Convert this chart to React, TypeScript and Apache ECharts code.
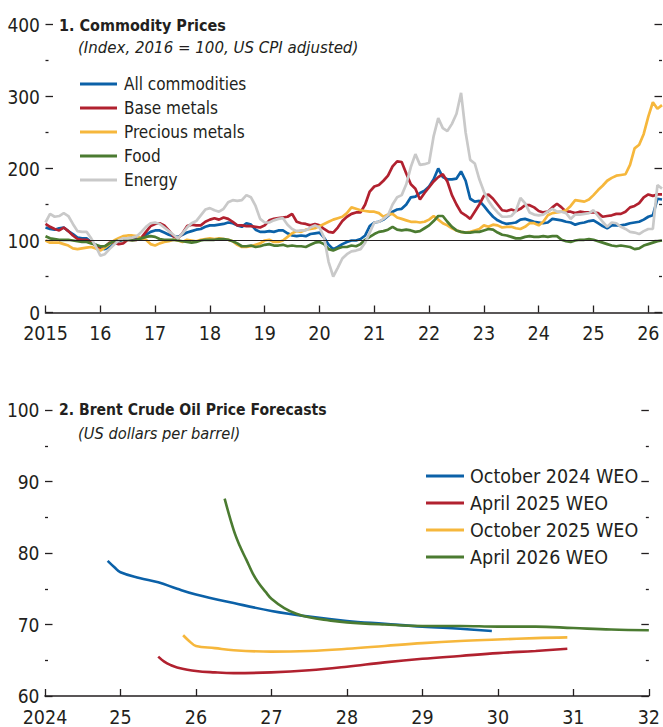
import React, { useEffect, useRef } from "react";
import * as echarts from "echarts";

// ---------- Panel 1: Commodity prices (monthly, Jan 2015 - Apr 2026) ----------
const startYear = 2015;
const allCommodities = [
  118,116,115,117,118,113,109,104,103,103,98,94,89,88,91,97,99,101,103,104,104,103,108,112,114,114,111,108,106,105,108,111,113,115,
  116,119,121,121,122,123,125,124,121,119,124,122,115,112,112,113,112,114,114,110,107,106,107,106,109,110,111,104,94,88,91,95,98,100,
  100,102,107,120,125,126,129,134,140,143,144,150,160,161,166,169,175,185,200,188,185,185,186,196,183,158,154,155,148,140,133,128,125,123,
  124,125,129,130,128,126,125,124,125,130,129,128,126,125,122,124,125,127,128,124,120,117,121,121,121,122,124,125,126,129,133,135,158,157,
];
const baseMetals = [
  123,119,116,114,118,113,107,102,101,101,98,93,87,91,97,97,95,96,101,101,101,104,112,120,123,124,121,114,106,103,110,120,122,121,
  121,126,129,131,129,132,130,126,121,121,120,120,119,118,121,128,130,131,132,133,137,126,124,123,121,123,121,116,112,111,118,127,133,137,
  139,139,150,168,175,177,183,190,203,210,209,193,178,172,157,166,174,182,188,192,182,163,150,139,135,130,140,150,162,164,158,150,142,141,
  143,141,144,149,149,146,141,139,140,146,151,146,140,140,138,140,139,139,139,138,133,134,135,137,137,140,146,148,152,160,164,162,164,164,
];
const preciousMetals = [
  100,97,97,97,95,93,89,88,89,90,91,89,86,90,95,100,103,106,107,107,106,103,101,95,93,96,98,99,101,100,98,101,100,99,
  101,102,103,102,103,102,101,99,94,91,91,92,94,96,100,101,98,98,100,105,110,113,112,115,116,117,120,123,126,129,131,133,138,146,
  144,142,141,140,140,138,133,136,137,132,130,128,126,126,125,126,129,134,129,124,121,117,114,112,111,112,114,116,121,119,122,121,118,119,
  119,117,116,119,124,124,121,126,135,138,139,140,142,148,156,155,154,157,163,170,176,183,187,190,191,192,205,228,233,248,272,292,283,288,
];
const food = [
  106,103,102,101,101,101,100,99,98,98,96,94,92,92,96,99,100,101,101,100,101,103,105,106,105,102,101,101,101,100,99,98,97,98,
  100,101,101,101,102,102,101,99,96,92,92,93,91,92,94,95,93,93,94,92,93,92,92,91,94,97,98,95,88,86,89,91,91,93,
  92,95,101,105,109,112,113,115,119,115,114,115,114,112,113,117,121,127,134,134,126,119,114,112,111,111,112,112,114,116,115,111,108,107,
  105,103,103,105,106,105,105,106,105,106,106,101,99,98,100,101,101,102,101,99,97,95,93,92,93,92,91,88,89,93,95,97,99,100,
];
const energy = [
  125,137,133,134,138,134,123,113,112,112,103,92,79,81,88,94,100,103,103,104,106,112,119,124,125,123,118,113,108,103,110,118,124,127,
  135,143,145,142,140,144,153,156,155,156,163,160,148,130,125,125,128,130,131,122,116,113,114,114,118,121,118,104,70,50,62,75,81,85,
  86,88,97,111,125,126,130,135,150,160,163,178,202,220,205,206,208,245,270,256,252,262,276,305,250,212,207,185,168,155,146,139,133,133,
  134,141,159,152,139,136,135,136,140,144,140,140,138,130,136,136,137,138,142,134,126,119,125,124,119,116,112,111,109,113,116,116,177,172,
];
const panel1Names = ["All commodities", "Base metals", "Precious metals", "Food", "Energy"];
const panel1Years = [2015, 2016, 2017, 2018, 2019, 2020, 2021, 2022, 2023, 2024, 2025, 2026];

// ---------- Panel 2: Brent forecasts ----------
const oct2024X = [2024.83, 2024.92, 2025.0, 2025.25, 2025.5, 2025.75, 2026.0, 2026.5, 2027.0, 2027.5, 2028.0, 2028.5, 2029.0, 2029.5, 2029.92];
const oct2024Y = [78.9, 78.0, 77.3, 76.5, 75.9, 75.0, 74.2, 73.0, 71.9, 71.1, 70.5, 70.1, 69.7, 69.4, 69.1];
const apr2025X = [2025.5, 2025.58, 2025.67, 2025.75, 2026.0, 2026.25, 2026.5, 2027.0, 2027.5, 2028.0, 2028.5, 2029.0, 2029.5, 2030.0, 2030.5, 2030.92];
const apr2025Y = [65.5, 64.8, 64.3, 64.0, 63.5, 63.3, 63.2, 63.3, 63.6, 64.1, 64.7, 65.2, 65.6, 66.0, 66.3, 66.6];
const oct2025X = [2025.83, 2025.92, 2026.0, 2026.25, 2026.5, 2027.0, 2027.5, 2028.0, 2028.5, 2029.0, 2029.5, 2030.0, 2030.5, 2030.92];
const oct2025Y = [68.5, 67.6, 67.0, 66.7, 66.4, 66.2, 66.3, 66.6, 67.0, 67.4, 67.7, 67.9, 68.1, 68.2];
const apr2026X = [2026.38, 2026.5, 2026.58, 2026.67, 2026.75, 2026.83, 2026.92, 2027.0, 2027.17, 2027.33, 2027.5, 2027.75, 2028.0, 2028.5, 2029.0, 2029.5, 2030.0, 2030.5, 2031.0, 2031.5, 2032.0];
const apr2026Y = [87.6, 83.2, 81.0, 79.0, 77.2, 75.8, 74.6, 73.6, 72.3, 71.5, 71.0, 70.6, 70.3, 70.0, 69.8, 69.8, 69.7, 69.7, 69.5, 69.3, 69.2];
const panel2Names = ["October 2024 WEO", "April 2025 WEO", "October 2025 WEO", "April 2026 WEO"];
const panel2Years = [2024, 2025, 2026, 2027, 2028, 2029, 2030, 2031, 2032];

const COLORS = { blue: "#0b61a8", red: "#b1212f", yellow: "#f6b73c", green: "#4b7b31", gray: "#c9c9c9" };
const FONT = "'Liberation Sans Narrow', 'DejaVu Sans Condensed', 'Arial Narrow', sans-serif";
const INK = "#231f20";

const monthly = (vals: number[]) => vals.map((v, k) => [startYear + k / 12, v]);
const pairs = (xs: number[], ys: number[]) => xs.map((x, i) => [x, ys[i]]);

export default function App() {
  const ref = useRef<HTMLDivElement>(null);
  useEffect(() => {
    if (!ref.current) return;
    const chart = echarts.init(ref.current, undefined, { renderer: "svg" });
    const yearLabel = (first: number) => (v: number) => (v === first ? String(v) : String(v - 2000));
    const xAxisBase = (grid: number, min: number, max: number, ticks: number[]) => ({
      gridIndex: grid,
      type: "value",
      min,
      max,
      interval: 1,
      axisLine: { show: true, onZero: false, lineStyle: { color: INK, width: 1.6 } },
      axisTick: { show: true, inside: true, length: 7, customValues: ticks, lineStyle: { color: INK, width: 1.3 } },
      axisLabel: { customValues: ticks, formatter: yearLabel(min), fontSize: 19.5, color: INK, fontFamily: FONT, margin: 11 },
      splitLine: { show: false },
    });
    const yAxisBase = (grid: number, min: number, max: number, interval: number, pos: string, labels: boolean) => ({
      gridIndex: grid,
      type: "value",
      min,
      max,
      interval,
      position: pos,
      axisLine: { show: false },
      axisTick: { show: true, inside: true, length: 7.5, lineStyle: { color: INK, width: 1.3 } },
      minorTick: { show: true, splitNumber: 2, length: 3, lineStyle: { color: INK, width: 1.3 } },
      axisLabel: { show: labels, fontSize: 19, color: INK, fontFamily: FONT, margin: 5.5 },
      splitLine: { show: false },
    });
    const line = (name: string, data: number[][], color: string, xi: number, yi: number, smooth: number | boolean, width: number) => ({
      name,
      type: "line",
      xAxisIndex: xi,
      yAxisIndex: yi,
      data,
      smooth,
      symbol: "none",
      showSymbol: false,
      lineStyle: { color, width },
      itemStyle: { color },
      emphasis: { disabled: true },
    });
    const legendBase = {
      orient: "vertical",
      icon: "rect",
      itemWidth: 37,
      itemHeight: 3,
      itemGap: 7,
      padding: 0,
      selectedMode: false,
    };
    chart.setOption({
      animation: false,
      backgroundColor: "#ffffff",
      grid: [
        { left: 45.5, top: 24.5, width: 616.5, height: 288 },
        { left: 45, top: 410, width: 608, height: 288 },
      ],
      xAxis: [xAxisBase(0, 2015, 2026.25, panel1Years), xAxisBase(1, 2024, 2032, panel2Years)],
      yAxis: [
        yAxisBase(0, 0, 400, 100, "left", true),
        yAxisBase(0, 0, 400, 100, "right", false),
        yAxisBase(1, 60, 100, 10, "left", true),
        yAxisBase(1, 60, 100, 10, "right", false),
      ],
      legend: [
        {
          ...legendBase,
          data: panel1Names,
          left: 80,
          top: 75.5,
          textStyle: { fontSize: 17, lineHeight: 17, color: INK, fontFamily: FONT, padding: [0, 0, 0, 2] },
        },
        {
          ...legendBase,
          data: panel2Names,
          left: 426,
          top: 466,
          itemWidth: 38,
          textStyle: { fontSize: 19.5, lineHeight: 17, color: INK, fontFamily: FONT, padding: [0, 0, 0, 1] },
        },
      ],
      graphic: [
        { type: "text", x: 59, y: 25, style: { text: "1. Commodity Prices", fontSize: 16, fontWeight: "bold", fontFamily: FONT, fill: INK, verticalAlign: "middle" } },
        { type: "text", x: 78, y: 47, style: { text: "(Index, 2016 = 100, US CPI adjusted)", fontSize: 16.7, fontStyle: "italic", fontFamily: FONT, fill: INK, verticalAlign: "middle" } },
        { type: "text", x: 59, y: 410, style: { text: "2. Brent Crude Oil Price Forecasts", fontSize: 15.6, fontWeight: "bold", fontFamily: FONT, fill: INK, verticalAlign: "middle" } },
        { type: "text", x: 78, y: 433, style: { text: "(US dollars per barrel)", fontSize: 16.3, fontStyle: "italic", fontFamily: FONT, fill: INK, verticalAlign: "middle" } },
      ],
      series: [
        line(panel1Names[0], monthly(allCommodities), COLORS.blue, 0, 0, false, 2.7),
        line(panel1Names[1], monthly(baseMetals), COLORS.red, 0, 0, false, 2.7),
        line(panel1Names[2], monthly(preciousMetals), COLORS.yellow, 0, 0, false, 2.7),
        line(panel1Names[3], monthly(food), COLORS.green, 0, 0, false, 2.7),
        line(panel1Names[4], monthly(energy), COLORS.gray, 0, 0, false, 2.7),
        {
          type: "line",
          xAxisIndex: 0,
          yAxisIndex: 0,
          data: [],
          markLine: {
            silent: true,
            symbol: "none",
            animation: false,
            label: { show: false },
            lineStyle: { color: INK, width: 1.1, type: "solid" },
            data: [{ yAxis: 100 }],
          },
        },
        line(panel2Names[0], pairs(oct2024X, oct2024Y), COLORS.blue, 1, 2, 0.4, 2.6),
        line(panel2Names[1], pairs(apr2025X, apr2025Y), COLORS.red, 1, 2, 0.4, 2.6),
        line(panel2Names[2], pairs(oct2025X, oct2025Y), COLORS.yellow, 1, 2, 0.4, 2.6),
        line(panel2Names[3], pairs(apr2026X, apr2026Y), COLORS.green, 1, 2, 0.4, 2.6),
      ],
    });
    return () => chart.dispose();
  }, []);
  return <div ref={ref} style={{ position: "fixed", left: 0, top: 0, width: 663, height: 727, background: "#fff" }} />;
}
